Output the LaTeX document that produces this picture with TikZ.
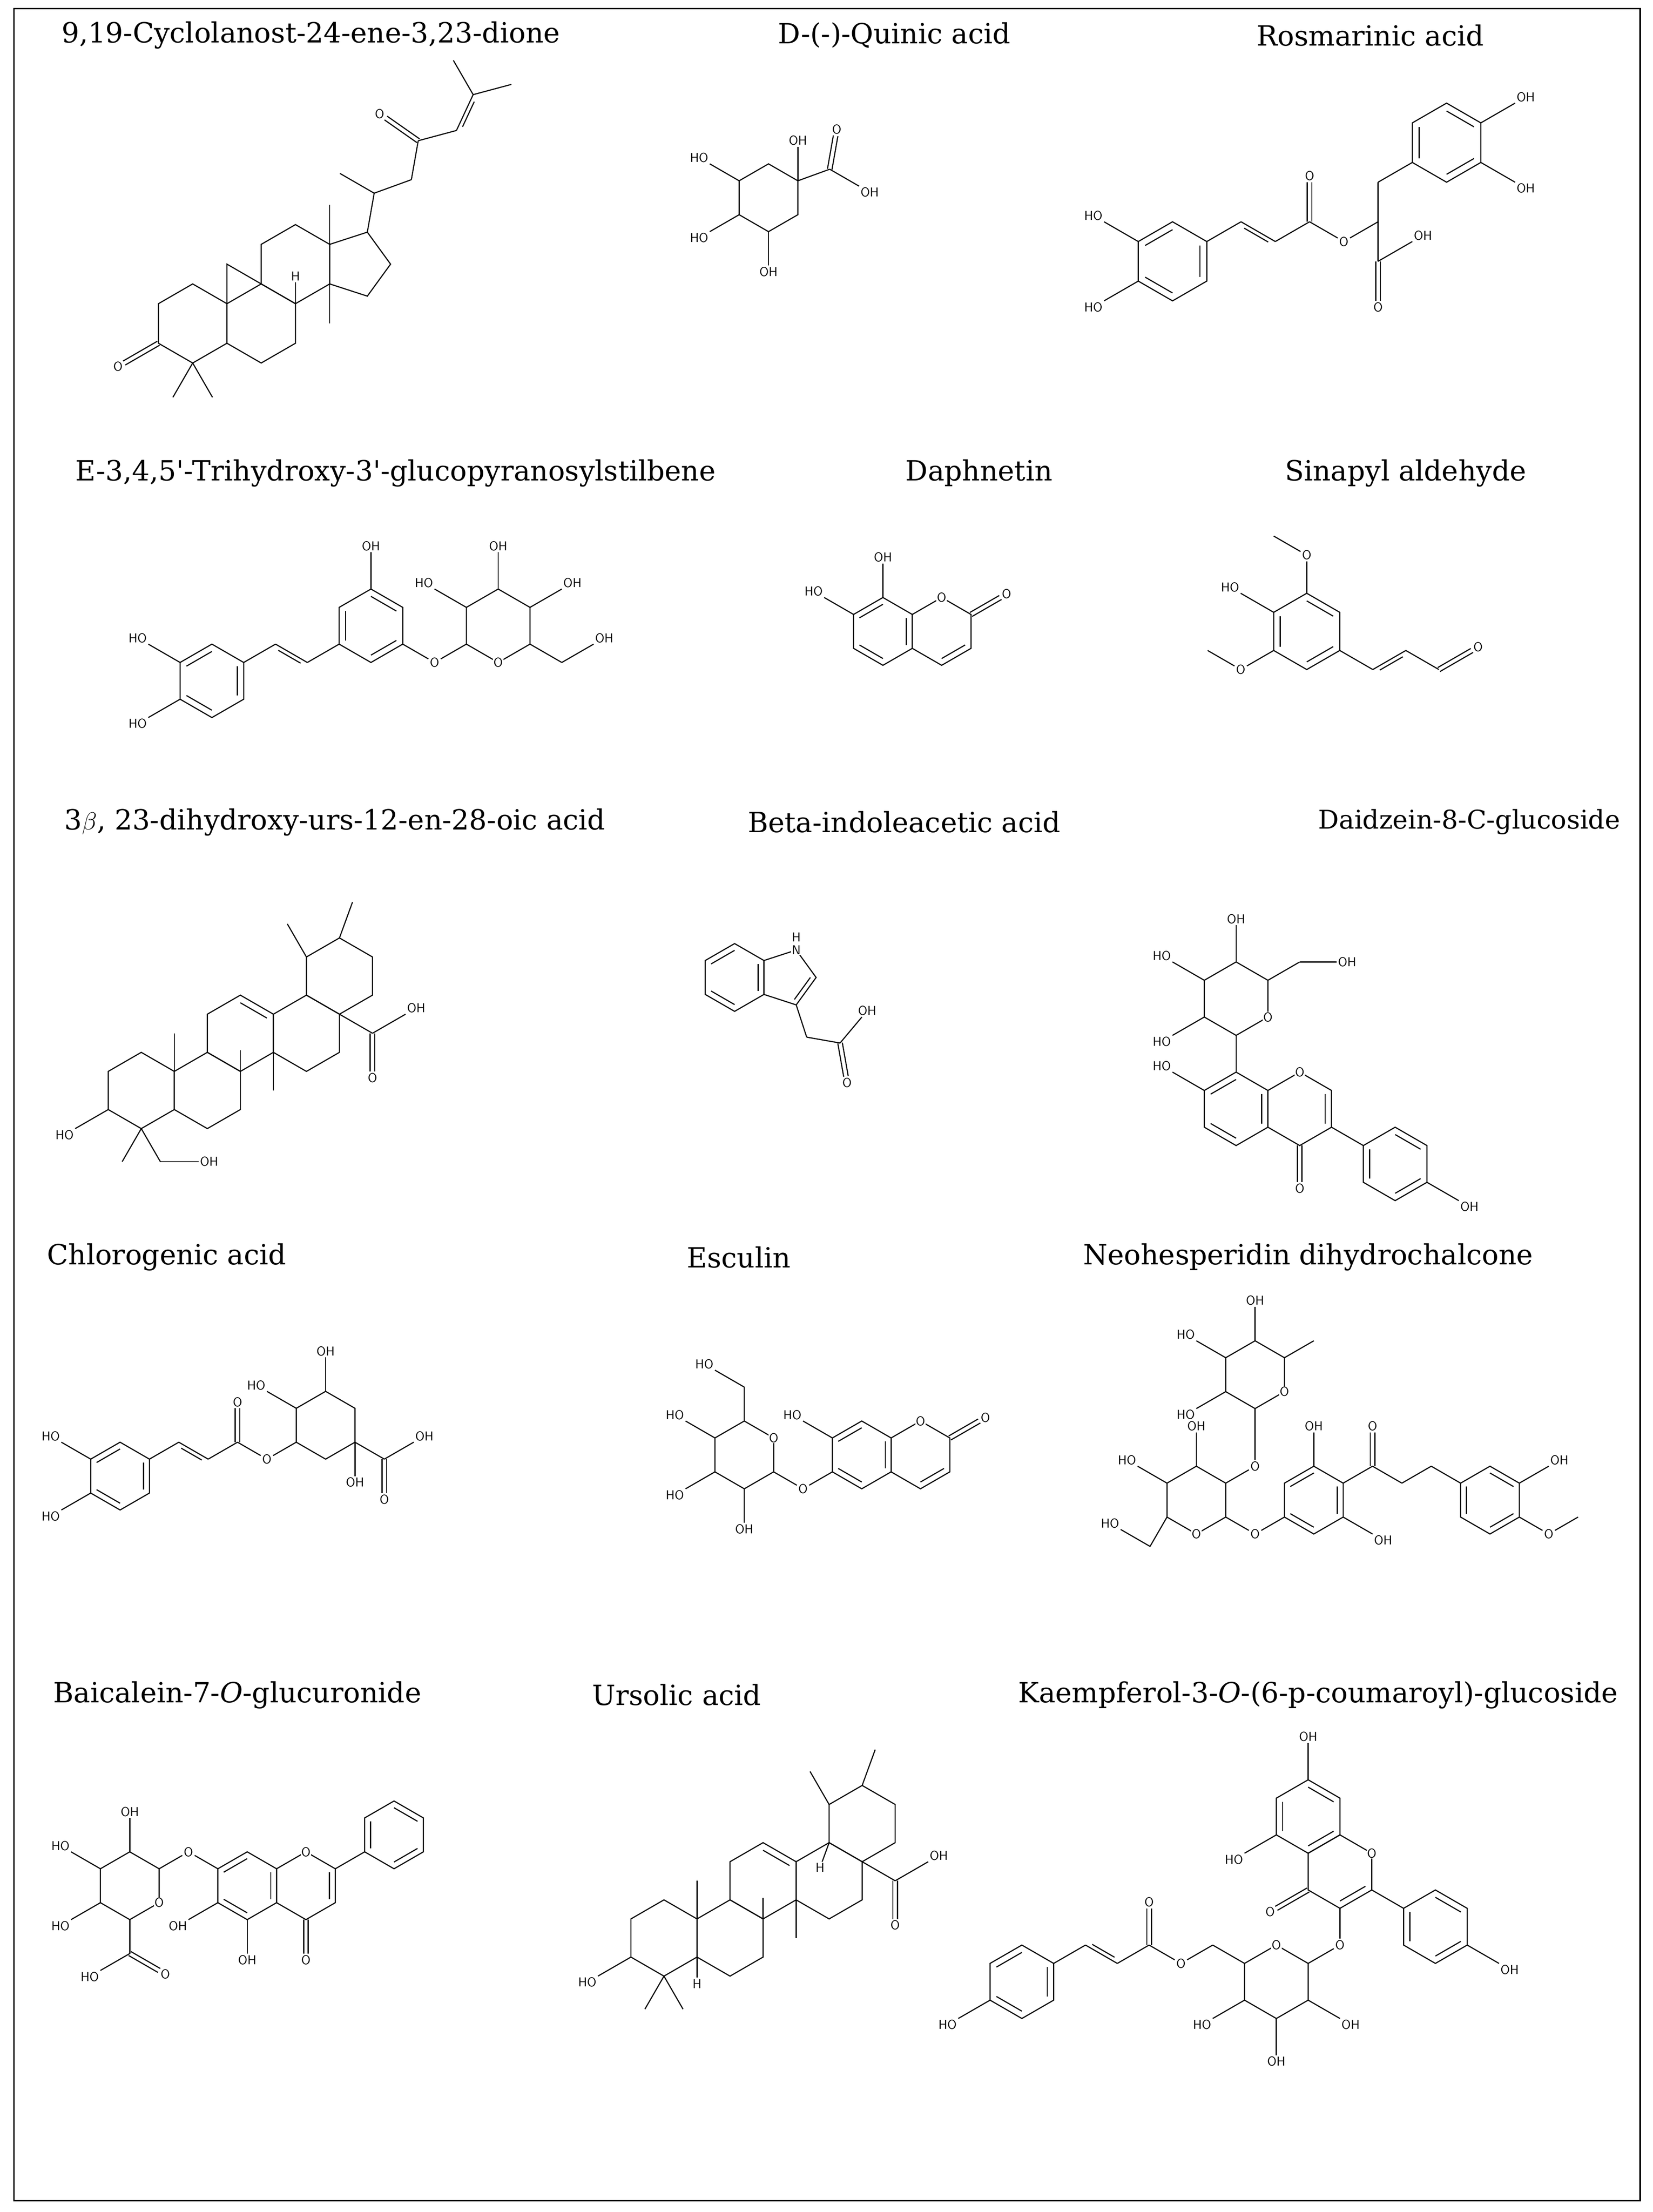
\documentclass[tikz,border=0pt]{standalone}
\usepackage{fontspec}
\newfontfamily\ttlfont{DejaVu Serif}
\usetikzlibrary{calc}
\tikzset{ttl/.style={font=\ttlfont\fontsize{28}{34}\selectfont, inner sep=0pt},
 lab/.style={font=\sffamily\fontsize{13}{15}\selectfont, inner sep=1pt},
 every path/.style={line width=1.1pt}}
\newcommand\setL[1]{\def\L{#1}\pgfmathsetmacro\H{#1*1.7320508}\pgfmathsetmacro\P{#1*1.554}\pgfmathsetmacro\Rp{#1*0.85065}}
\newcommand\ring[3]{\coordinate (#1) at #2;
 \foreach \i in {1,...,6}{\coordinate (#1\i) at ($(#1)+({60*\i-30}:\L)$);}
 \draw (#11)--(#12)--(#13)--(#14)--(#15)--(#16)--cycle;
 \foreach \e in {#3}{\ifnum\e>0 \pgfmathtruncatemacro\f{mod(\e,6)+1}\draw ($(#1\e)!0.2!(#1)$)--($(#1\f)!0.2!(#1)$);\fi}}
\newcommand\pent[4]{\coordinate (#1) at #2;
 \foreach \i in {1,...,5}{\coordinate (#1\i) at ($(#1)+({#3+72*(\i-1)}:\Rp)$);}
 \draw (#11)--(#12)--(#13)--(#14)--(#15)--cycle;
 \foreach \e in {#4}{\ifnum\e>0 \pgfmathtruncatemacro\f{mod(\e,5)+1}\draw ($(#1\e)!0.2!(#1)$)--($(#1\f)!0.2!(#1)$);\fi}}
\newcommand\bo[3]{\path (#1) ++(#2:\L) coordinate (#3); \draw (#1)--(#3);}
\newcommand\dbo[3]{\path (#1) ++(#2:\L) coordinate (#3); \draw (#1)--(#3);
 \coordinate (tq1) at ($(#1)!0.15!(#3)$); \coordinate (tq2) at ($(#3)!0.15!(#1)$);
 \draw ($(tq1)!4pt!-90:(tq2)$)--($(tq2)!4pt!90:(tq1)$);}
\newcommand\lbl[4]{\path (#1) ++(#2:\L) coordinate (#3e); \pgfmathtruncatemacro\anc{mod(#2+540,360)}
 \node[lab,anchor=\anc] (#3) at (#3e) {#4}; \draw (#1)--(#3e);}
\newcommand\dlbl[4]{\path (#1) ++(#2:\L) coordinate (#3e); \pgfmathtruncatemacro\anc{mod(#2+540,360)}
 \node[lab,anchor=\anc] (#3) at (#3e) {#4};
 \draw ($(#1)!2.3pt!90:(#3e)$)--($(#3e)!2.3pt!-90:(#1)$); \draw ($(#1)!2.3pt!-90:(#3e)$)--($(#3e)!2.3pt!90:(#1)$);}
\newcommand\atm[4]{\path (#1) ++(#2:\L) coordinate (#3c); \node[lab] (#3) at (#3c) {#4}; \draw (#1)--(#3);}
\newcommand\rO[2][O]{\node[lab,fill=white,inner sep=0.6pt] (#2o) at (#2) {#1};}
\begin{document}
\begin{tikzpicture}
\useasboundingbox (0,0) rectangle (58.5,-78.3);
\draw[line width=1.4pt] (0.5,-0.3) rectangle (58.05,-77.9);
% titles
\node[ttl] (t1) at (11.0,-1.25) {9,19-Cyclolanost-24-ene-3,23-dione};
\node[ttl] (t2) at (31.65,-1.25) {D-(-)-Quinic acid};
\node[ttl] (t3) at (48.5,-1.25) {Rosmarinic acid};
\node[ttl] (t4) at (14.0,-16.75) {E-3,4,5'-Trihydroxy-3'-glucopyranosylstilbene};
\node[ttl] (t5) at (34.65,-16.75) {Daphnetin};
\node[ttl] (t6) at (49.75,-16.75) {Sinapyl aldehyde};
\node[ttl] (t7) at (11.85,-29.1) {3$\beta$, 23-dihydroxy-urs-12-en-28-oic acid};
\node[ttl] (t8) at (32.0,-29.1) {Beta-indoleacetic acid};
\node[ttl,font=\ttlfont\fontsize{26}{32}\selectfont] (t9) at (52.0,-29.1) {Daidzein-8-C-glucoside};
\node[ttl] (t10) at (5.9,-44.5) {Chlorogenic acid};
\node[ttl] (t11) at (26.15,-44.5) {Esculin};
\node[ttl] (t12) at (46.3,-44.5) {Neohesperidin dihydrochalcone};
\node[ttl] (t13) at (8.4,-60.0) {Baicalein-7-\textit{O}-glucuronide};
\node[ttl] (t14) at (23.95,-60.0) {Ursolic acid};
\node[ttl] (t15) at (46.65,-60.0) {Kaempferol-3-\textit{O}-(6-p-coumaroyl)-glucoside};
% 1 cyclolanostane
\begin{scope}[shift={(6.82,-11.45)}]\setL{1.4}
\ring{aA}{(0,0)}{0}\ring{aB}{(\H,0)}{0}\ring{aC}{($(aB)+(60:\H)$)}{0}
\pent{aD}{($(aC)+(0:\P)$)}{144}{0}
\dlbl{aA4}{210}{aO}{O}\bo{aA5}{240}{am1}\bo{aA5}{300}{am2}
\path (aA1) ++(90:\L) coordinate (acp); \draw (aA1)--(acp)--(aB2);
\node[lab] (aH) at ($(aB1)+(90:0.7*\L)$) {H}; \draw (aB1)--(aH);
\bo{aC1}{90}{am3}\bo{aC6}{270}{am4}
\bo{aD5}{80}{ac20}\bo{ac20}{150}{am5}\bo{ac20}{20}{ac22}\bo{ac22}{80}{ac23}
\dlbl{ac23}{145}{aO2}{O}\bo{ac23}{15}{ac24}\dbo{ac24}{65}{ac25}\bo{ac25}{120}{am6}\bo{ac25}{15}{am7}
\end{scope}
% 2 quinic
\begin{scope}[shift={(27.2,-7.0)}]\setL{1.2}
\ring{qA}{(0,0)}{0}
\lbl{qA1}{90}{q1}{OH}\bo{qA1}{20}{qc}\dlbl{qc}{80}{q2}{O}\lbl{qc}{-30}{q3}{OH}
\lbl{qA3}{150}{q4}{HO}\lbl{qA4}{210}{q5}{HO}\lbl{qA5}{270}{q6}{OH}
\end{scope}
% 3 rosmarinic
\begin{scope}[shift={(41.5,-9.25)}]\setL{1.4}
\ring{rA}{(0,0)}{2,4,6}\lbl{rA3}{150}{r1}{HO}\lbl{rA4}{210}{r2}{HO}
\bo{rA1}{30}{ra}\dbo{ra}{-30}{rb}\bo{rb}{30}{rc}\dlbl{rc}{90}{r3}{O}\atm{rc}{-30}{r4}{O}
\bo{r4}{30}{rd}\bo{rd}{-90}{re}\lbl{re}{30}{r5}{OH}\dlbl{re}{-90}{r6}{O}
\bo{rd}{90}{rf}\bo{rf}{30}{rg}\ring{rB}{($(rg)+(30:\L)$)}{1,3,5}
\lbl{rB1}{30}{r7}{OH}\lbl{rB6}{-30}{r8}{OH}
\end{scope}
% 4 stilbene glucoside
\begin{scope}[shift={(7.5,-24.1)}]\setL{1.3}
\ring{sA}{(0,0)}{2,4,6}\lbl{sA3}{150}{s1}{HO}\lbl{sA4}{210}{s2}{HO}
\bo{sA1}{30}{sa}\dbo{sa}{-30}{sb}\bo{sb}{30}{sc}\ring{sB}{($(sc)+(30:\L)$)}{1,3,5}
\lbl{sB2}{90}{s3}{OH}\atm{sB6}{-30}{s4}{O}\bo{s4}{30}{sg}\ring{sG}{($(sg)+(30:\L)$)}{0}
\bo{sG6}{-30}{sh}\lbl{sh}{30}{s5}{OH}\lbl{sG1}{30}{s6}{OH}\lbl{sG2}{90}{s7}{OH}\lbl{sG3}{150}{s8}{HO}
\rO{sG5}
\end{scope}
% 5 daphnetin
\begin{scope}[shift={(31.25,-22.35)}]\setL{1.2}
\ring{dA}{(0,0)}{2,4,6}\ring{dB}{(\H,0)}{5}\dlbl{dB1}{30}{d1}{O}
\lbl{dA2}{90}{d2}{OH}\lbl{dA3}{150}{d3}{HO}\rO{dB2}
\end{scope}
% 6 sinapyl aldehyde
\begin{scope}[shift={(46.25,-22.35)}]\setL{1.35}
\ring{nA}{(0,0)}{1,3,5}\atm{nA2}{90}{n1}{O}\bo{n1}{150}{nm1}\lbl{nA3}{150}{n2}{HO}
\atm{nA4}{210}{n3}{O}\bo{n3}{150}{nm2}
\bo{nA6}{-30}{na}\dbo{na}{30}{nb}\bo{nb}{-30}{nc}\dlbl{nc}{30}{n4}{O}
\end{scope}
% 7 dihydroxy-ursenoic acid
\begin{scope}[shift={(5.0,-38.6)}]\setL{1.35}
\ring{tA}{(0,0)}{0}\ring{tB}{(\H,0)}{0}\ring{tC}{($(tB)+(60:\H)$)}{1}
\ring{tD}{($(tC)+(0:\H)$)}{0}\ring{tE}{($(tD)+(60:\H)$)}{0}
\lbl{tA4}{210}{t1}{HO}\bo{tA5}{240}{tm1}\bo{tA5}{300}{tch}\lbl{tch}{0}{t2}{OH}
\bo{tA1}{90}{tm2}\path (tB1) ++(90:0.55*\L) coordinate (tm3); \draw (tB1)--(tm3);
\bo{tC6}{270}{tm4}\bo{tD1}{-30}{tk}\lbl{tk}{30}{t3}{OH}\dlbl{tk}{-90}{t4}{O}
\bo{tE3}{120}{tm5}\bo{tE2}{70}{tm6}
\end{scope}
% 8 indoleacetic acid
\begin{scope}[shift={(26.0,-34.6)}]\setL{1.2}
\ring{iA}{(0,0)}{2,4,6}\pent{iP}{(\P,0)}{144}{3}
\bo{iP3}{288}{ich}\bo{ich}{-10}{icc}\lbl{icc}{50}{i1}{OH}\dlbl{icc}{-80}{i2}{O}
\rO[N]{iP5}\node[lab] (iH) at ($(iP5)+(0,0.45)$) {H};
\end{scope}
% 9 daidzein-8-C-glucoside
\begin{scope}[shift={(43.75,-39.25)}]\setL{1.3}
\ring{zA}{(0,0)}{2,4,6}\ring{zC}{(\H,0)}{6}\dlbl{zC5}{270}{z1}{O}\lbl{zA3}{150}{z2}{HO}
\bo{zC6}{-30}{zx}\ring{zB}{($(zx)+(-30:\L)$)}{1,3,5}\lbl{zB6}{-30}{z3}{OH}
\bo{zA2}{90}{zg}\ring{zG}{($(zg)+(90:\L)$)}{0}\bo{zG1}{30}{zch}\lbl{zch}{0}{z4}{OH}
\lbl{zG2}{90}{z5}{OH}\lbl{zG3}{150}{z6}{HO}\lbl{zG4}{210}{z7}{HO}
\rO{zC2}\rO{zG6}
\end{scope}
% 10 chlorogenic acid
\begin{scope}[shift={(4.25,-52.25)}]\setL{1.2}
\ring{cA}{(0,0)}{2,4,6}\lbl{cA3}{150}{c8}{HO}\lbl{cA4}{210}{c9}{HO}
\bo{cA1}{30}{ca}\dbo{ca}{-30}{cb}\bo{cb}{30}{cc}\dlbl{cc}{90}{c1}{O}\atm{cc}{-30}{c2}{O}
\bo{c2}{30}{cq}\ring{cQ}{($(cq)+(30:\L)$)}{0}
\lbl{cQ3}{150}{c3}{HO}\lbl{cQ2}{90}{c4}{OH}\lbl{cQ6}{270}{c5}{OH}
\bo{cQ6}{-30}{ck}\lbl{ck}{30}{c6}{OH}\dlbl{ck}{-90}{c7}{O}
\end{scope}
% 11 esculin
\begin{scope}[shift={(30.5,-51.5)}]\setL{1.2}
\ring{eA}{(0,0)}{2,4,6}\ring{eB}{(\H,0)}{5}\dlbl{eB1}{30}{e1}{O}\lbl{eA3}{150}{e2}{HO}
\atm{eA4}{210}{e3}{O}\bo{e3}{150}{eg}\ring{eG}{($(eg)+(150:\L)$)}{0}
\bo{eG2}{90}{ech}\lbl{ech}{150}{e4}{HO}\lbl{eG3}{150}{e5}{HO}\lbl{eG4}{210}{e6}{HO}\lbl{eG5}{270}{e7}{OH}
\rO{eB2}\rO{eG1}
\end{scope}
% 12 neohesperidin dihydrochalcone
\begin{scope}[shift={(46.5,-53.1)}]\setL{1.2}
\ring{hA}{(0,0)}{2,4,6}\lbl{hA2}{90}{h1}{OH}\lbl{hA6}{-30}{h2}{OH}
\bo{hA1}{30}{hc}\dlbl{hc}{90}{h3}{O}\bo{hc}{-30}{hd}\bo{hd}{30}{he}\bo{he}{-30}{hf}
\ring{hB}{($(hf)+(-30:\L)$)}{1,3,5}\lbl{hB1}{30}{h4}{OH}\atm{hB6}{-30}{h5}{O}\bo{h5}{30}{hm}
\atm{hA4}{210}{h6}{O}\bo{h6}{150}{hg}\ring{hG}{($(hg)+(150:\L)$)}{0}
\bo{hG4}{240}{hch}\lbl{hch}{150}{h7}{HO}\lbl{hG3}{150}{h8}{HO}\lbl{hG2}{90}{h9}{OH}
\atm{hG1}{30}{h10}{O}\path (h10) ++(90:1.7*\L) coordinate (hr); \draw (h10)--(hr);
\ring{hR}{($(hr)+(90:\L)$)}{0}\bo{hR1}{30}{hm2}
\lbl{hR2}{90}{h11}{OH}\lbl{hR3}{150}{h12}{HO}\lbl{hR4}{210}{h13}{HO}
\rO{hG5}\rO{hR6}
\end{scope}
% 13 baicalein glucuronide
\begin{scope}[shift={(8.75,-66.75)}]\setL{1.2}
\ring{bA}{(0,0)}{2,4,6}\ring{bC}{(\H,0)}{6}\dlbl{bC5}{270}{b1}{O}
\bo{bC1}{30}{bp}\ring{bP}{($(bp)+(30:\L)$)}{1,3,5}
\lbl{bA4}{210}{b2}{OH}\lbl{bA5}{270}{b3}{OH}
\atm{bA3}{150}{b4}{O}\bo{b4}{210}{bg}\ring{bG}{($(bg)+(210:\L)$)}{0}
\lbl{bG2}{90}{b5}{OH}\lbl{bG3}{150}{b6}{HO}\lbl{bG4}{210}{b7}{HO}
\bo{bG5}{270}{bk}\lbl{bk}{210}{b8}{HO}\dlbl{bk}{-30}{b9}{O}
\rO{bC2}\rO{bG6}
\end{scope}
% 14 ursolic acid
\begin{scope}[shift={(23.5,-68.6)}]\setL{1.35}
\ring{uA}{(0,0)}{0}\ring{uB}{(\H,0)}{0}\ring{uC}{($(uB)+(60:\H)$)}{1}
\ring{uD}{($(uC)+(0:\H)$)}{0}\ring{uE}{($(uD)+(60:\H)$)}{0}
\lbl{uA4}{210}{u1}{HO}\bo{uA5}{240}{um1}\bo{uA5}{300}{um7}
\node[lab] (uh1) at ($(uA6)+(270:0.7*\L)$) {H}; \draw (uA6)--(uh1);
\node[lab] (uh2) at ($(uD2)+(250:0.7*\L)$) {H}; \draw (uD2)--(uh2);
\bo{uA1}{90}{um2}\path (uB1) ++(90:0.55*\L) coordinate (um3); \draw (uB1)--(um3);
\bo{uC6}{270}{um4}\bo{uD1}{-30}{uk}\lbl{uk}{30}{u3}{OH}\dlbl{uk}{-90}{u4}{O}
\bo{uE3}{120}{um5}\bo{uE2}{70}{um6}
\end{scope}
% 15 kaempferol glucoside
\begin{scope}[shift={(46.3,-64.3)}]\setL{1.3}
\ring{kA}{(0,0)}{1,3,5}\ring{kC}{($(kA)+(300:\H)$)}{5}
\lbl{kA2}{90}{k1}{OH}\lbl{kA4}{210}{k2}{HO}\dlbl{kC4}{210}{k3}{O}
\bo{kC6}{-30}{kb}\ring{kB}{($(kb)+(-30:\L)$)}{1,3,5}\lbl{kB6}{-30}{k4}{OH}
\atm{kC5}{270}{k5}{O}\bo{k5}{210}{kg}\ring{kG}{($(kg)+(210:\L)$)}{0}
\lbl{kG4}{210}{k6}{HO}\lbl{kG5}{270}{k7}{OH}\lbl{kG6}{-30}{k8}{OH}
\bo{kG3}{150}{kch}\atm{kch}{210}{k9}{O}\bo{k9}{150}{kco}\dlbl{kco}{90}{k10}{O}
\bo{kco}{210}{kx}\dbo{kx}{150}{ky}\bo{ky}{210}{kz}\ring{kP}{($(kz)+(210:\L)$)}{2,4,6}
\lbl{kP4}{210}{k11}{HO}
\rO{kC1}\rO{kG2}
\end{scope}
\end{tikzpicture}
\end{document}
